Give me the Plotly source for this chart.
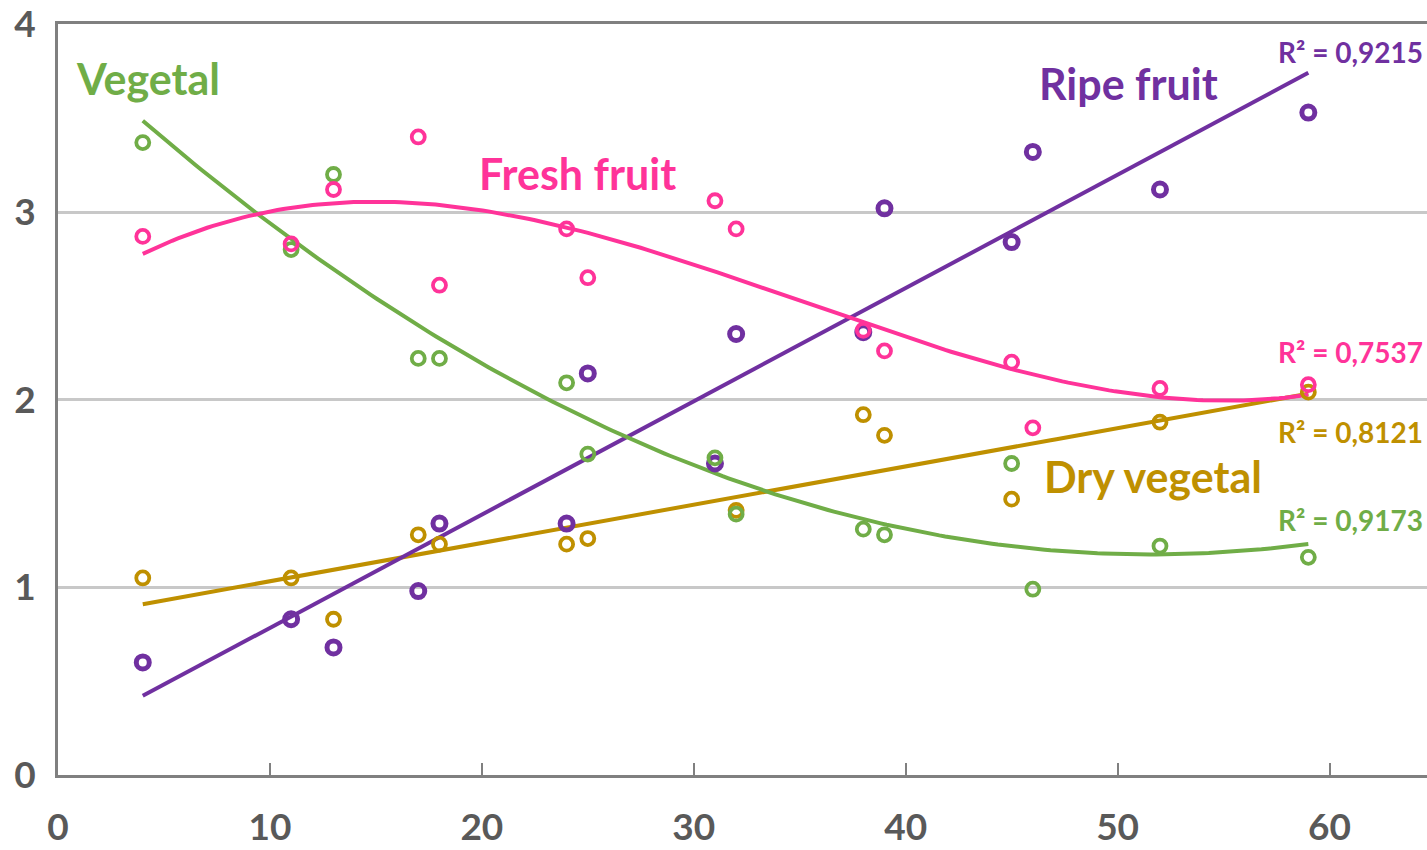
import numpy as np
import plotly.graph_objects as go

# Sample positions shared by the four descriptor series
x_vals = [4, 11, 13, 17, 18, 24, 25, 31, 32, 38, 39, 45, 46, 52, 59]

vegetal = [3.37, 2.80, 3.20, 2.22, 2.22, 2.09, 1.71, 1.69, 1.39, 1.31, 1.28, 1.66, 0.99, 1.22, 1.16]
fresh_fruit = [2.87, 2.83, 3.12, 3.40, 2.61, 2.91, 2.65, 3.06, 2.91, 2.37, 2.26, 2.20, 1.85, 2.06, 2.08]
ripe_fruit = [0.60, 0.83, 0.68, 0.98, 1.34, 1.34, 2.14, 1.66, 2.35, 2.36, 3.02, 2.84, 3.32, 3.12, 3.53]

dry_x = [4, 11, 13, 17, 18, 24, 25, 32, 38, 39, 45, 52, 59]
dry_vegetal = [1.05, 1.05, 0.83, 1.28, 1.23, 1.23, 1.26, 1.41, 1.92, 1.81, 1.47, 1.88, 2.04]

x_ticks = [0, 10, 20, 30, 40, 50, 60]
y_ticks = [0, 1, 2, 3, 4]

series_names = ["Dry vegetal", "Ripe fruit", "Vegetal", "Fresh fruit"]
r2_labels = {"Ripe fruit": "R² = 0,9215", "Fresh fruit": "R² = 0,7537",
             "Dry vegetal": "R² = 0,8121", "Vegetal": "R² = 0,9173"}

colors = {"Vegetal": "#70AD47", "Fresh fruit": "#FF3399",
          "Ripe fruit": "#7030A0", "Dry vegetal": "#BF9000"}
data = {"Vegetal": (x_vals, vegetal, 2),
        "Fresh fruit": (x_vals, fresh_fruit, 3),
        "Ripe fruit": (x_vals, ripe_fruit, 1),
        "Dry vegetal": (dry_x, dry_vegetal, 1)}

W, H = 1427, 850
M_L, M_R, M_T, M_B = 58, 0, 20, 75


def to_paper(px, py):
    """Convert a page position in pixels to plot-area paper coordinates."""
    return ((px - M_L) / (W - M_L - M_R), 1 - (py - M_T) / (H - M_T - M_B))


fig = go.Figure()

# trendlines first, then markers on top
for name in series_names:
    xs, ys, order = data[name]
    coef = np.polyfit(xs, ys, order)
    xf = np.linspace(min(xs), max(xs), 200)
    fig.add_trace(go.Scatter(x=xf, y=np.polyval(coef, xf), mode="lines",
                             line=dict(color=colors[name], width=4),
                             showlegend=False, hoverinfo="skip"))

for name in series_names:
    xs, ys, _ = data[name]
    lw = 5 if name == "Ripe fruit" else 3.8
    fig.add_trace(go.Scatter(x=xs, y=ys, mode="markers", name=name,
                             marker=dict(symbol="circle-open", size=13,
                                         color=colors[name],
                                         line=dict(color=colors[name], width=lw)),
                             showlegend=False))

label_font = "Lato, 'Open Sans', sans-serif"

# series names
name_pos = {"Vegetal": (74, 75), "Fresh fruit": (477, 170),
            "Ripe fruit": (1037, 80), "Dry vegetal": (1042, 475)}
for name, (px, py) in name_pos.items():
    xp, yp = to_paper(px, py)
    fig.add_annotation(x=xp, y=yp, xref="paper", yref="paper",
                       text=f"<b>{name}</b>", showarrow=False,
                       xanchor="left", yanchor="middle",
                       font=dict(family=label_font, size=43, color=colors[name]))

# R² labels
r2_pos = {"Ripe fruit": 48, "Fresh fruit": 350, "Dry vegetal": 430, "Vegetal": 519}
for name, py in r2_pos.items():
    xp, yp = to_paper(1425, py)
    fig.add_annotation(x=xp, y=yp, xref="paper", yref="paper",
                       text=f"<b>{r2_labels[name]}</b>", showarrow=False,
                       xanchor="right", yanchor="middle",
                       font=dict(family=label_font, size=28, color=colors[name]))

tick_font = dict(family=label_font, size=37, color="#595959", weight="bold")

fig.update_layout(
    width=W, height=H,
    margin=dict(l=M_L, r=M_R, t=M_T, b=M_B),
    plot_bgcolor="white", paper_bgcolor="white",
    xaxis=dict(range=[0, 64.6], tickvals=x_ticks,
               showgrid=False, zeroline=False,
               showline=True, linecolor="#808080", linewidth=3, mirror=True,
               ticks="inside", ticklen=12, tickwidth=2, tickcolor="#808080",
               tickfont=tick_font, ticklabelstandoff=18),
    yaxis=dict(range=[0, 4.002], tickvals=y_ticks,
               showgrid=True, gridcolor="#C8C8C8", gridwidth=2.5,
               zeroline=False, showline=True, linecolor="#808080", linewidth=3,
               ticks="", tickfont=tick_font, ticklabelstandoff=12,
               ticklabeloverflow="allow"),
)

fig.write_html("out.html")
